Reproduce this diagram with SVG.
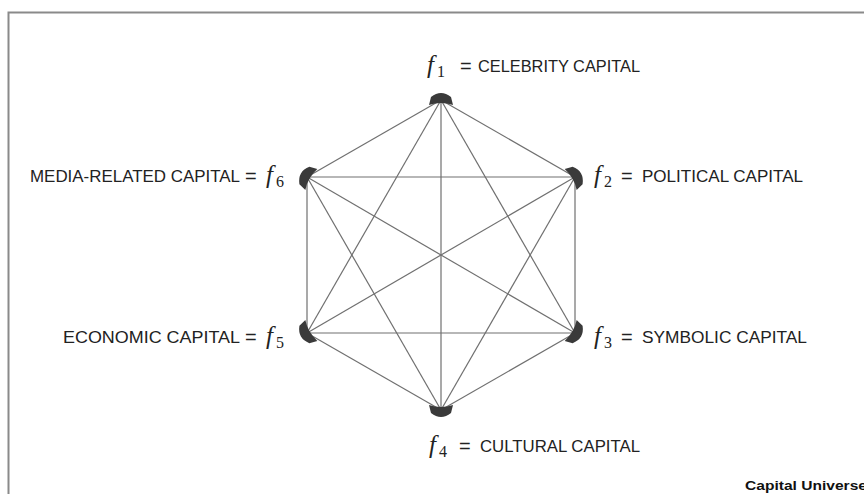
<svg xmlns="http://www.w3.org/2000/svg" xmlns:xlink="http://www.w3.org/1999/xlink" width="864" height="494" viewBox="0 0 864 494">
<style>
.lab{font-family:"Liberation Sans",Arial,sans-serif;font-size:17px;fill:#222}
.eq{font-family:"Liberation Sans",Arial,sans-serif;font-size:20px;fill:#222}
.f{font-family:"Liberation Serif","Times New Roman",serif;font-style:italic;font-size:25px;fill:#222}
.sub{font-family:"Liberation Serif","Times New Roman",serif;font-size:16px;fill:#222}
.edge{stroke:#707070;stroke-width:1.2;fill:none}
.blob{fill:#3a3a3a}
</style>
<defs>
<path id="b" class="blob" d="M -12,5 L -10,-3 Q -5,-7 0,-7 Q 5,-7 10,-3 L 12,5 Q 0,1 -12,5 Z"/>
</defs>
<rect x="8.5" y="12.5" width="870" height="500" fill="#fff" stroke="#8a8a8a" stroke-width="2"/>
<g id="connectors">
<line class="edge" x1="441" y1="100" x2="575" y2="177"/>
<line class="edge" x1="441" y1="100" x2="575" y2="333"/>
<line class="edge" x1="441" y1="100" x2="441" y2="410"/>
<line class="edge" x1="441" y1="100" x2="307" y2="333"/>
<line class="edge" x1="441" y1="100" x2="307" y2="177"/>
<line class="edge" x1="575" y1="177" x2="575" y2="333"/>
<line class="edge" x1="575" y1="177" x2="441" y2="410"/>
<line class="edge" x1="575" y1="177" x2="307" y2="333"/>
<line class="edge" x1="575" y1="177" x2="307" y2="177"/>
<line class="edge" x1="575" y1="333" x2="441" y2="410"/>
<line class="edge" x1="575" y1="333" x2="307" y2="333"/>
<line class="edge" x1="575" y1="333" x2="307" y2="177"/>
<line class="edge" x1="441" y1="410" x2="307" y2="333"/>
<line class="edge" x1="441" y1="410" x2="307" y2="177"/>
<line class="edge" x1="307" y1="333" x2="307" y2="177"/>
</g>
<g id="f1">
<use xlink:href="#b" transform="translate(441,100)"/>
<text class="f" x="427" y="73">f</text><text class="sub" x="437" y="77">1</text>
<text class="eq" x="460" y="73">=</text>
<text class="lab" x="478" y="72" textLength="162" lengthAdjust="spacingAndGlyphs">CELEBRITY CAPITAL</text>
</g>
<g id="f2">
<use xlink:href="#b" transform="translate(575,177) rotate(60)"/>
<text class="f" x="594" y="183">f</text><text class="sub" x="604" y="187">2</text>
<text class="eq" x="621" y="183">=</text>
<text class="lab" x="642" y="182" textLength="161" lengthAdjust="spacingAndGlyphs">POLITICAL CAPITAL</text>
</g>
<g id="f3">
<use xlink:href="#b" transform="translate(575,333) rotate(120)"/>
<text class="f" x="594" y="344">f</text><text class="sub" x="604" y="348">3</text>
<text class="eq" x="621" y="344">=</text>
<text class="lab" x="642" y="343" textLength="165" lengthAdjust="spacingAndGlyphs">SYMBOLIC CAPITAL</text>
</g>
<g id="f4">
<use xlink:href="#b" transform="translate(441,410) rotate(180)"/>
<text class="f" x="429" y="453">f</text><text class="sub" x="439" y="457">4</text>
<text class="eq" x="459" y="453">=</text>
<text class="lab" x="480" y="452" textLength="160" lengthAdjust="spacingAndGlyphs">CULTURAL CAPITAL</text>
</g>
<g id="f5">
<use xlink:href="#b" transform="translate(307,333) rotate(240)"/>
<text class="lab" x="63" y="343" textLength="177" lengthAdjust="spacingAndGlyphs">ECONOMIC CAPITAL</text>
<text class="eq" x="245" y="344">=</text>
<text class="f" x="266" y="344">f</text><text class="sub" x="276" y="348">5</text>
</g>
<g id="f6">
<use xlink:href="#b" transform="translate(307,177) rotate(300)"/>
<text class="lab" x="30" y="182" textLength="210" lengthAdjust="spacingAndGlyphs">MEDIA-RELATED CAPITAL</text>
<text class="eq" x="245" y="183">=</text>
<text class="f" x="266" y="183">f</text><text class="sub" x="276" y="187">6</text>
</g>
<text x="745" y="490" font-family="Liberation Sans,Arial,sans-serif" font-weight="bold" font-size="13.5" fill="#111" textLength="122" lengthAdjust="spacingAndGlyphs">Capital Universe</text>
</svg>
